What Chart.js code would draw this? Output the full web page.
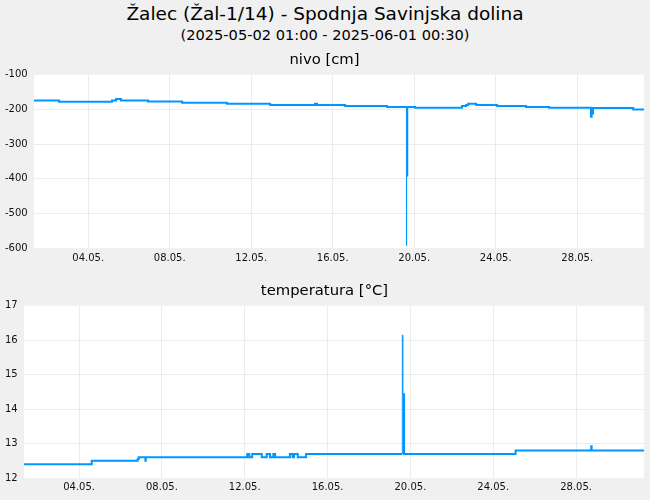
<!DOCTYPE html>
<html>
<head>
<meta charset="utf-8">
<script src="https://cdn.jsdelivr.net/npm/chart.js@4/dist/chart.umd.min.js"></script>
<style>
	body { margin:0; background:#f0f0f0; font-family:"DejaVu Sans", sans-serif; }
	#page { position:relative; width:650px; height:500px; overflow:hidden; }
	.txt { position:absolute; left:0; width:650px; text-align:center; color:#000; line-height:1; white-space:nowrap; }
	#title { top:5px; font-size:18.5px; }
	#subtitle { top:28px; font-size:14.6px; }
	.box { position:absolute; left:0; width:650px; }
	#boxNivo { top:44px; height:226px; }
	#boxTemp { top:270px; height:230px; }
</style>
</head>
<body>
<div id="page">
	<div id="title" class="txt">Žalec (Žal-1/14) - Spodnja Savinjska dolina</div>
	<div id="subtitle" class="txt">(2025-05-02 01:00 - 2025-06-01 00:30)</div>
	<div id="boxNivo" class="box"><canvas id="chartNivo"></canvas></div>
	<div id="boxTemp" class="box"><canvas id="chartTemp"></canvas></div>
</div>
<script>
// x = day of May (fractional)
var dayTicks = [4, 8, 12, 16, 20, 24, 28];
var dayLabels = ['04.05.', '08.05.', '12.05.', '16.05.', '20.05.', '24.05.', '28.05.'];

var nivoX = [1.34, 2.57, 5.17, 5.37, 5.61, 6.94, 8.61, 10.81, 12.93, 15.13, 15.23, 16.61, 18.67, 19.61, 19.62, 19.63, 19.66, 20.04, 22.35, 22.55, 22.65, 23.04, 24.07, 25.49, 26.62, 28.68, 28.71, 28.78, 30.75, 31.28];
var nivoY = [-174, -178, -174, -170, -174, -177, -181, -184, -187, -184, -187, -190, -193, -193, -593, -391, -193, -195, -190, -187, -184, -187, -190, -193, -195, -221, -212, -196, -200, -200];
var nivoTicks = [-600, -500, -400, -300, -200, -100];

var tempX = [1.34, 4.61, 6.83, 6.88, 7.20, 7.22, 12.12, 12.22, 12.36, 12.82, 13.06, 13.22, 13.38, 13.47, 14.18, 14.31, 14.38, 14.56, 14.96, 19.60, 19.61, 19.64, 19.69, 25.08, 28.73, 28.75, 31.28];
var tempY = [12.4, 12.5, 12.55, 12.6, 12.5, 12.6, 12.7, 12.6, 12.7, 12.6, 12.7, 12.6, 12.7, 12.6, 12.7, 12.6, 12.7, 12.6, 12.7, 12.7, 16.15, 14.43, 12.7, 12.8, 12.92, 12.8, 12.8];
var tempTicks = [12, 13, 14, 15, 16, 17];

var lineColor = '#0096ff';
var gridColor = '#ececec';
var fontFamily = '"DejaVu Sans", sans-serif';

var plotBg = {
	id: 'plotBg',
	beforeDraw: function(chart) {
		var a = chart.chartArea;
		var c = chart.ctx;
		c.save();
		c.fillStyle = '#ffffff';
		c.fillRect(a.left, a.top, a.right - a.left, a.bottom - a.top);
		c.restore();
	}
};

function points(xs, ys) {
	return xs.map(function(x, i) { return { x: x, y: ys[i] }; });
}

function makeChart(id, title, xs, ys, yTicks, opt) {
	var yMin = yTicks[0];
	var yMax = yTicks[yTicks.length - 1];
	return new Chart(id, {
		type: 'line',
		data: {
			datasets: [{
				data: points(xs, ys),
				borderColor: lineColor,
				borderWidth: 2,
				borderCapStyle: 'butt',
				pointRadius: 0,
				stepped: 'before',
				segment: { borderWidth: opt.segWidth }
			}]
		},
		options: {
			animation: false,
			responsive: true,
			maintainAspectRatio: false,
			layout: { padding: { left: 5, right: 6, top: 0, bottom: 0 } },
			plugins: {
				legend: { display: false },
				tooltip: { enabled: false },
				title: {
					display: true,
					text: title,
					color: '#000',
					font: { family: fontFamily, size: 14.8, weight: 'normal' },
					padding: opt.titlePad
				}
			},
			scales: {
				x: {
					type: 'linear',
					min: xs[0],
					max: xs[xs.length - 1],
					border: { display: false },
					grid: { color: gridColor, drawTicks: false },
					afterBuildTicks: function(scale) {
						scale.ticks = dayTicks.map(function(v) { return { value: v }; });
					},
					afterFit: function(scale) { scale.height = opt.xHeight; },
					ticks: {
						autoSkip: false,
						maxRotation: 0,
						padding: opt.xPad,
						color: '#111',
						font: { family: fontFamily, size: 10 },
						callback: function(value) {
							var i = dayTicks.indexOf(value);
							return i >= 0 ? dayLabels[i] : '';
						}
					}
				},
				y: {
					min: yMin,
					max: yMax,
					border: { display: false },
					grid: {
						drawTicks: false,
						color: function(ctx) {
							var v = ctx.tick ? ctx.tick.value : null;
							return (v === yMin || v === yMax) ? 'rgba(0,0,0,0)' : gridColor;
						}
					},
					afterBuildTicks: function(scale) {
						scale.ticks = yTicks.map(function(v) { return { value: v }; });
					},
					afterFit: function(scale) { scale.width = opt.yWidth; },
					ticks: {
						crossAlign: 'far',
						color: '#111',
						font: { family: fontFamily, size: 10 }
					}
				}
			}
		},
		plugins: [plotBg]
	});
}

makeChart('chartNivo', 'nivo [cm]', nivoX, nivoY, nivoTicks, {
	titlePad: { top: 7, bottom: 6 },
	xHeight: 22,
	xPad: 4,
	yWidth: 29,
	segWidth: function(ctx) {
		return Math.min(ctx.p0.parsed.y, ctx.p1.parsed.y) < -500 ? 1 : 2;
	}
});

makeChart('chartTemp', 'temperatura [°C]', tempX, tempY, tempTicks, {
	titlePad: { top: 12, bottom: 6 },
	xHeight: 22,
	xPad: 3,
	yWidth: 19,
	segWidth: function(ctx) {
		return Math.max(ctx.p0.parsed.y, ctx.p1.parsed.y) > 15 ? 1 : 2;
	}
});
</script>
</body>
</html>
